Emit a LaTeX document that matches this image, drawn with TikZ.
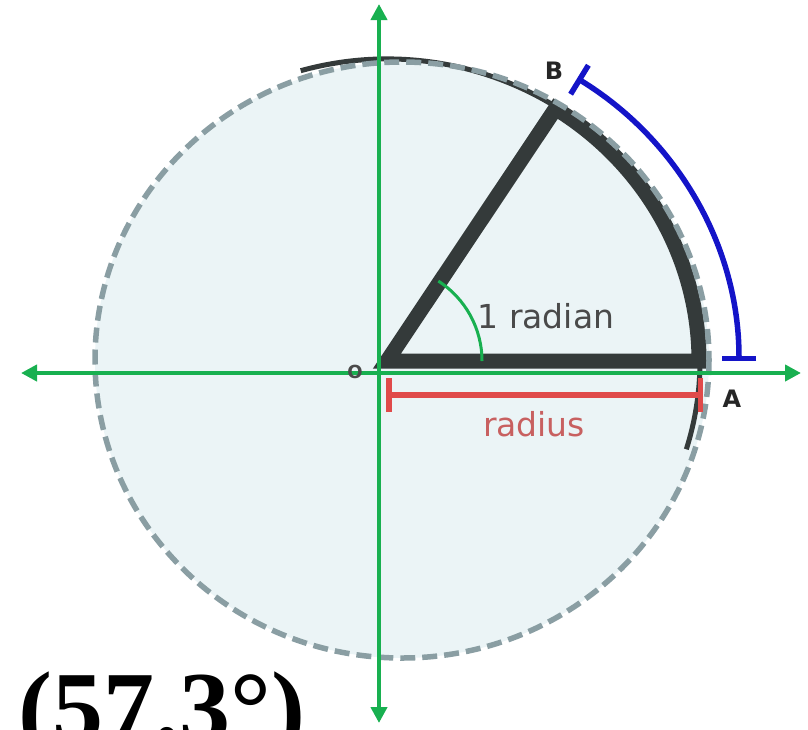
\documentclass[tikz,border=0pt]{standalone}
\usepackage{fontspec}
\usepackage{tikz}
\usetikzlibrary{positioning, calc, arrows.meta}
\newfontfamily\labelfont{DejaVu Sans}
\newfontfamily\bigfont{Liberation Serif}
\definecolor{discfill}{RGB}{235,244,246}
\definecolor{discline}{RGB}{138,158,163}
\definecolor{sectorink}{RGB}{52,58,58}
\definecolor{axisgreen}{RGB}{24,176,80}
\definecolor{radiusred}{RGB}{224,74,74}
\definecolor{radiustext}{RGB}{200,96,96}
\definecolor{arcblue}{RGB}{20,20,200}
\definecolor{labelgray}{RGB}{74,74,74}

\begin{document}
\begin{tikzpicture}[
  x=1pt, y=-1pt,
  disc/.style={fill=discfill, draw=discline, line width=5.5pt,
    dash pattern=on 15pt off 7pt},
  sector/.style={draw=sectorink, line width=15pt, line join=miter},
  rim/.style={draw=sectorink, line width=5pt},
  axis/.style={{Triangle[length=16pt,width=16pt]}-{Triangle[length=16pt,width=16pt]},
    axisgreen, line width=4pt},
  bracket/.style={{Bar[width=34pt]}-{Bar[width=34pt]}, line width=5.5pt},
  pointlabel/.style={font=\labelfont\bfseries\fontsize{24}{26}\selectfont,
    text=black!85, inner sep=0pt},
  note/.style={font=\labelfont\fontsize{33}{36}\selectfont, inner sep=0pt}
]
  \useasboundingbox (0,0) rectangle (808,729);
  \clip (0,0) rectangle (808,729);

  \coordinate (O) at (387,361);
  \coordinate (A) at (699,361);
  \coordinate (B) at ([shift={(-57.3:312 and 300)}]O);
  \coordinate (rimstart) at ([shift={(-106:313 and 302)}]O);
  \coordinate (bluestart) at ([shift={(-57.3:352 and 336)}]O);
  \coordinate (greenstart) at ([shift={(0:95 and 95)}]O);
  \coordinate (redleft) at (386,395);
  \coordinate (redright) at (703,395);
  \coordinate (xleft) at (21,373);
  \coordinate (xright) at (801,373);
  \coordinate (ytop) at (379,4);
  \coordinate (ybottom) at (379,723);

  \fill[discfill] (402,360) ellipse[x radius=307, y radius=298];
  \draw[rim] (rimstart) arc[start angle=-106, end angle=17, x radius=313, y radius=302];
  \draw[sector] (O) -- (A) arc[start angle=0, end angle=-57.3, x radius=312, y radius=300] -- cycle;
  \draw[disc, fill=none] (402,360) ellipse[x radius=307, y radius=298];

  \draw[axisgreen, line width=3pt] (greenstart) arc[start angle=0, end angle=-57.3, radius=95];
  \draw[bracket, arcblue] (bluestart) arc[start angle=-57.3, end angle=0, x radius=352, y radius=336];
  \draw[bracket, radiusred] (redleft) -- (redright);

  \draw[axis] (xleft) -- (xright);
  \draw[axis] (ytop) -- (ybottom);

  \node[note, text=labelgray] (radian) at (546,316) {1 radian};
  \node[note, text=radiustext] (radius) at (534,424) {radius};
  \node[pointlabel] (Blabel) at (554,71) {B};
  \node[pointlabel] (Alabel) at (732,399) {A};
  \node[pointlabel, text=labelgray, font=\labelfont\bfseries\fontsize{18}{20}\selectfont] (Olabel) at (355,372) {O};
  \node[font=\bigfont\bfseries\fontsize{102}{112}\selectfont, inner sep=0pt, anchor=base west] (degrees) at (18,742) {(57.3°)};
\end{tikzpicture}
\end{document}
